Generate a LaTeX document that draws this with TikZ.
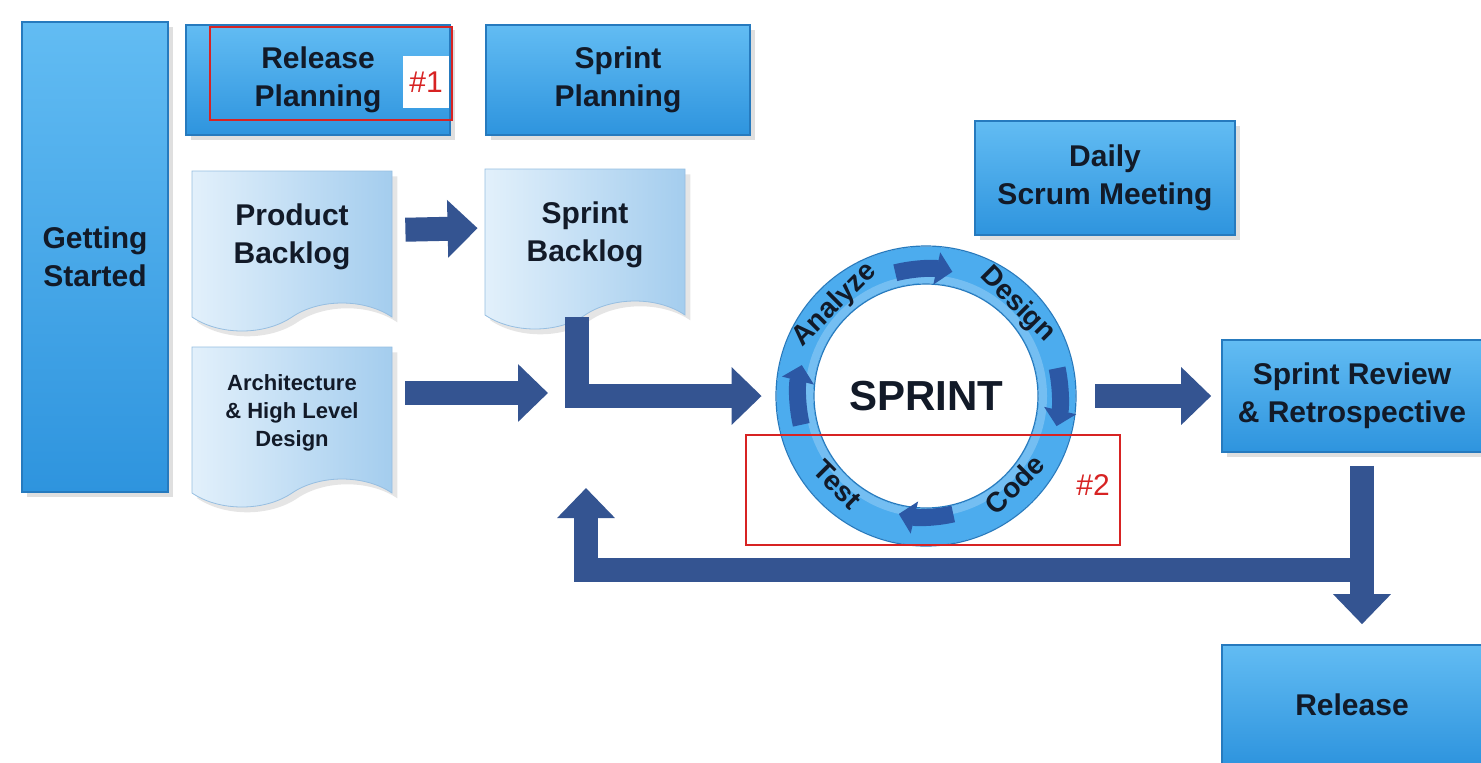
\documentclass[tikz,border=0pt]{standalone}
\usepackage{fontspec}
\setmainfont{Liberation Sans}
\usetikzlibrary{arrows.meta, positioning, calc, shapes.symbols, shadows}
\definecolor{boxtop}{RGB}{98,188,243}
\definecolor{boxbot}{RGB}{46,148,222}
\definecolor{boxedge}{RGB}{38,122,190}
\definecolor{doctop}{RGB}{226,240,251}
\definecolor{docbot}{RGB}{164,205,238}
\definecolor{docedge}{RGB}{150,190,225}
\definecolor{arrowblue}{RGB}{52,84,145}
\definecolor{ringblue}{RGB}{76,172,238}
\definecolor{ringdark}{RGB}{44,88,165}
\definecolor{labeltext}{RGB}{18,26,40}
\definecolor{markred}{RGB}{215,35,35}

\begin{document}
\begin{tikzpicture}[x=0.5pt, y=0.5pt,
    stagebox/.style={rectangle, draw=boxedge, line width=0.8pt, top color=boxtop, bottom color=boxbot,
      drop shadow={opacity=0.25}, text=labeltext, align=center, inner sep=0pt,
      font=\fontsize{15}{19}\selectfont\bfseries},
    docbox/.style={tape, tape bend top=none, tape bend bottom=in and out, tape bend height=14pt,
      minimum width=100pt, minimum height=80pt, draw=docedge, left color=doctop, right color=docbot,
      drop shadow={opacity=0.2}, text=labeltext, align=center, inner sep=0pt,
      font=\fontsize{15}{19}\selectfont\bfseries},
    fatarrow/.style={draw=arrowblue, line width=12pt, line join=miter, -{Triangle[width=28pt,length=15pt]}},
    ringarrow/.style={draw=ringdark, line width=8.5pt, -{Triangle[width=16pt,length=8pt]}},
    ringlabel/.style={text=labeltext, inner sep=0pt, font=\fontsize{14}{16}\selectfont\bfseries},
    markbox/.style={draw=markred, line width=0.8pt},
    marktext/.style={text=markred, inner sep=0pt, font=\fontsize{15}{17}\selectfont}
  ]
  \useasboundingbox[fill=white] (0,0) rectangle (1481,-762);

  \node[stagebox, minimum width=73pt, minimum height=235pt] (start) at (95,-257) {Getting\\Started};
  \node[stagebox, minimum width=132pt, minimum height=55pt] (relplan) at (318,-80) {Release\\Planning};
  \node[stagebox, minimum width=132pt, minimum height=55pt] (sprplan) at (618,-80) {Sprint\\Planning};
  \node[docbox] (prodlog) at (292,-237) {Product\\Backlog};
  \node[docbox] (sprlog) at (585,-235) {Sprint\\Backlog};
  \node[docbox, font=\fontsize{11}{14}\selectfont\bfseries] (arch) at (292,-413) {Architecture\\\& High Level\\Design};
  \node[stagebox, minimum width=130pt, minimum height=57pt] (daily) at (1105,-178) {Daily\\Scrum Meeting};
  \node[stagebox, minimum width=130pt, minimum height=56pt] (review) at (1352,-396) {Sprint Review\\\& Retrospective};
  \node[stagebox, minimum width=130pt, minimum height=60pt] (release) at (1352,-705) {Release};

  \node[circle, minimum size=150pt, inner sep=0pt, text=labeltext,
    font=\fontsize{21}{25}\selectfont\bfseries] (sprint) at (926,-396) {SPRINT};
  \draw[ringblue, line width=18.5pt] (sprint.center) circle (131);
  \draw[ringblue!55!white, opacity=0.5, line width=4pt] (sprint.center) circle (117);
  \draw[boxedge, line width=0.6pt] (sprint.center) circle (150) (sprint.center) circle (112);

  \begin{scope}[shift={(sprint.center)}]
    \draw[ringarrow] (104:127) arc (104:78:127);
    \draw[ringarrow] (12:134) arc (12:-13:134);
    \draw[ringarrow] (-77:121) arc (-77:-103:121);
    \draw[ringarrow] (193:128) arc (193:166:128);
    \node[ringlabel, rotate=45] (analyze) at (135:129) {Analyze};
    \node[ringlabel, rotate=-45] (design) at (45:129) {Design};
    \node[ringlabel, rotate=45] (code) at (-45:125) {Code};
    \node[ringlabel, rotate=-45] (test) at (-135:125) {Test};
  \end{scope}

  \coordinate (merge) at (548,-393);
  \coordinate (loopback) at (1360,-570);
  \coordinate (backin) at (586,-488);

  \draw[fatarrow, shorten <=6.5pt, shorten >=3.5pt] ([yshift=3.5pt]prodlog.east) -- ([yshift=3.5pt]sprlog.west);
  \draw[fatarrow, shorten <=6.5pt] (arch.east |- merge) -- (merge);
  \draw[fatarrow, shorten <=8pt, shorten >=7pt] ([xshift=-4pt]sprlog.south) |- (sprint.west);
  \draw[fatarrow, shorten <=9.5pt, shorten >=5pt] (sprint.east) -- (review.west);
  \draw[fatarrow] (loopback) -| (backin);
  \draw[fatarrow, shorten <=6.5pt, shorten >=10pt] ([xshift=5pt]review.south) -- ([xshift=5pt]release.north);

  \draw[markbox] (210,-27) rectangle (452,-120);
  \node[fill=white, marktext, minimum width=23pt, minimum height=26pt] (mark1) at (426,-82) {\#1};
  \draw[markbox] (746,-435) rectangle (1120,-545);
  \node[marktext] (mark2) at (1093,-485) {\#2};
\end{tikzpicture}
\end{document}
